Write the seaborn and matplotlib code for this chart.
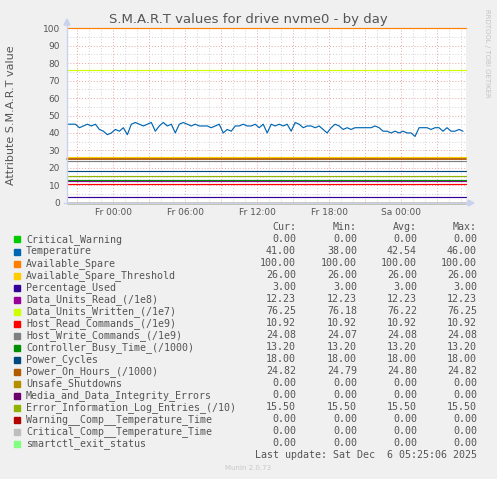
import numpy as np
import pandas as pd
import matplotlib
matplotlib.use("Agg")
import matplotlib.pyplot as plt
import matplotlib.patches as mpatches
import seaborn as sns

# ---------------- data ----------------
series_names = [
    "Critical_Warning", "Temperature", "Available_Spare", "Available_Spare_Threshold",
    "Percentage_Used", "Data_Units_Read_(/1e8)", "Data_Units_Written_(/1e7)",
    "Host_Read_Commands_(/1e9)", "Host_Write_Commands_(/1e9)", "Controller_Busy_Time_(/1000)",
    "Power_Cycles", "Power_On_Hours_(/1000)", "Unsafe_Shutdowns",
    "Media_and_Data_Integrity_Errors", "Error_Information_Log_Entries_(/10)",
    "Warning__Comp__Temperature_Time", "Critical_Comp__Temperature_Time", "smartctl_exit_status",
]
series_colors = [
    "#00CC00", "#0066B3", "#FF8000", "#FFCC00", "#330099", "#990099", "#CCFF00",
    "#FF0000", "#808080", "#008F00", "#00487D", "#B35A00", "#B38F00", "#6B006B",
    "#8FB300", "#B30000", "#BEBEBE", "#80FF80",
]
cur_vals = [0.00, 41.00, 100.00, 26.00, 3.00, 12.23, 76.25, 10.92, 24.08, 13.20,
            18.00, 24.82, 0.00, 0.00, 15.50, 0.00, 0.00, 0.00]
min_vals = [0.00, 38.00, 100.00, 26.00, 3.00, 12.23, 76.18, 10.92, 24.07, 13.20,
            18.00, 24.79, 0.00, 0.00, 15.50, 0.00, 0.00, 0.00]
avg_vals = [0.00, 42.54, 100.00, 26.00, 3.00, 12.23, 76.22, 10.92, 24.08, 13.20,
            18.00, 24.80, 0.00, 0.00, 15.50, 0.00, 0.00, 0.00]
max_vals = [0.00, 46.00, 100.00, 26.00, 3.00, 12.23, 76.25, 10.92, 24.08, 13.20,
            18.00, 24.82, 0.00, 0.00, 15.50, 0.00, 0.00, 0.00]

# temperature samples, every 20 minutes
temperature = [
    45, 45, 45, 43, 44, 45, 44, 45, 42, 41, 39, 40, 42, 41, 43, 39, 45, 46, 45, 44,
    45, 46, 41, 44, 46, 44, 45, 40, 45, 46, 45, 44, 45, 44, 44, 44, 43, 44, 45, 40,
    42, 41, 44, 44, 45, 44, 44, 45, 43, 45, 40, 45, 44, 45, 44, 45, 41, 46, 45, 43,
    44, 44, 43, 44, 42, 40, 43, 45, 44, 42, 43, 42, 43, 43, 43, 43, 43, 44, 43, 41,
    41, 40, 41, 40, 41, 40, 40, 38, 43, 43, 43, 42, 43, 43, 41, 43, 41, 41, 42, 41,
]
t_start = pd.Timestamp("2025-12-04 20:10")
t_end = pd.Timestamp("2025-12-06 05:25")
temp_times = pd.date_range(t_start, periods=len(temperature), freq="20min")

tick_times = pd.to_datetime(["2025-12-05 00:00", "2025-12-05 06:00", "2025-12-05 12:00",
                             "2025-12-05 18:00", "2025-12-06 00:00"])
tick_labels = ["Fr 00:00", "Fr 06:00", "Fr 12:00", "Fr 18:00", "Sa 00:00"]
y_ticks = [0, 10, 20, 30, 40, 50, 60, 70, 80, 90, 100]

title = "S.M.A.R.T values for drive nvme0 - by day"
y_label = "Attribute S.M.A.R.T value"
last_update = "Last update: Sat Dec  6 05:25:06 2025"
footer = "Munin 2.0.73"
side_text = "RRDTOOL / TOBI OETIKER"

# build long table
rows = []
for name, val in zip(series_names, cur_vals):
    if name == "Temperature":
        for t, v in zip(temp_times, temperature):
            rows.append((name, t, v))
    else:
        rows.append((name, t_start, val))
        rows.append((name, t_end, val))
df = pd.DataFrame(rows, columns=["series", "time", "value"])

# ---------------- figure ----------------
W, H = 497, 479
sns.set_theme(style="white")
plt.rcParams["font.family"] = ["DejaVu Sans"]
fig = plt.figure(figsize=(W / 100, H / 100), dpi=100, facecolor="#f0f0f0")

def fx(px):
    return px / W

def fy(py):
    return 1 - py / H

ax = fig.add_axes([fx(67), fy(202.7), fx(466) - fx(67), fy(28.3) - fy(202.7)])
ax.set_facecolor("white")

# grid
minor_times = pd.date_range("2025-12-04 21:00", "2025-12-06 05:00", freq="1h")
for t in minor_times:
    major = (t.hour % 3 == 0)
    ax.axvline(t, color="#eaa4a4" if major else "#d2d2d2", lw=0.7,
               ls=(0, (1, 2)), zorder=0.5)
for yv in range(5, 101, 5):
    major = (yv % 10 == 0)
    ax.axhline(yv, color="#eaa4a4" if major else "#d2d2d2", lw=0.7,
               ls=(0, (1, 2)), zorder=0.5)

for name, col in zip(series_names, series_colors):
    sub = df[df["series"] == name]
    lw = 1.3 if name == "Power_On_Hours_(/1000)" else 0.85
    sns.lineplot(data=sub, x="time", y="value", ax=ax, color=col, lw=lw,
                 zorder=3, clip_on=False)
    if name == "smartctl_exit_status":
        ax.lines[-1].set_linestyle((0, (4, 2.5)))

ax.set_xlim(t_start - pd.Timedelta(minutes=2), t_end)
ax.set_ylim(0, 100)
ax.set_xticks(tick_times)
ax.set_xticklabels(tick_labels)
ax.set_yticks(y_ticks)
ax.set_yticklabels([str(v) for v in y_ticks])
ax.tick_params(axis="both", labelsize=6.5, colors="#555555", length=0, pad=5)
ax.tick_params(axis="x", pad=4)
ax.set_xlabel("")
ax.set_ylabel("")
for s in ax.spines.values():
    s.set_visible(False)

# axis lines with arrows
axis_col = "#c8d2ee"
fig.add_artist(plt.Line2D([fx(67), fx(67)], [fy(203), fy(24)], color=axis_col, lw=1.0))
fig.add_artist(plt.Line2D([fx(64), fx(468)], [fy(203), fy(203)], color=axis_col, lw=1.0))
fig.add_artist(mpatches.Polygon([[fx(64), fy(25)], [fx(70), fy(25)], [fx(67), fy(19)]],
                                closed=True, color=axis_col, transform=fig.transFigure))
fig.add_artist(mpatches.Polygon([[fx(468), fy(200)], [fx(468), fy(206)], [fx(474), fy(203)]],
                                closed=True, color=axis_col, transform=fig.transFigure))

# titles
fig.text(fx(248), fy(19), title, ha="center", va="center", fontsize=9.5, color="#555555")
fig.text(fx(11), fy(115), y_label, ha="center", va="center", rotation=90,
         fontsize=8, color="#555555")
fig.text(fx(487), fy(53), side_text, ha="center", va="center", rotation=270,
         fontsize=5, color="#c4c4c4")

# legend
mono = "DejaVu Sans Mono"
fs = 7.2
txt_col = "#555555"
col_x = [296, 357, 417, 477]
headers = ["Cur:", "Min:", "Avg:", "Max:"]
for cx, hdr in zip(col_x, headers):
    fig.text(fx(cx), fy(227.5), hdr, ha="right", va="center", family=mono,
             fontsize=fs, color=txt_col)
for i, (name, col) in enumerate(zip(series_names, series_colors)):
    yy = 239.5 + 12 * i
    fig.add_artist(mpatches.Rectangle((fx(14), fy(yy + 3)), fx(6), fy(0) - fy(6),
                                      color=col, transform=fig.transFigure))
    fig.text(fx(26), fy(yy), name, ha="left", va="center", family=mono,
             fontsize=fs, color=txt_col)
    for cx, arr in zip(col_x, [cur_vals, min_vals, avg_vals, max_vals]):
        fig.text(fx(cx), fy(yy), f"{arr[i]:.2f}", ha="right", va="center",
                 family=mono, fontsize=fs, color=txt_col)
fig.text(fx(477), fy(455.5), last_update, ha="right", va="center", family=mono,
         fontsize=fs, color=txt_col)
fig.text(fx(248), fy(468), footer, ha="center", va="center", fontsize=5,
         color="#c8c8c8")

fig.savefig("out.png", dpi=100, facecolor=fig.get_facecolor())
